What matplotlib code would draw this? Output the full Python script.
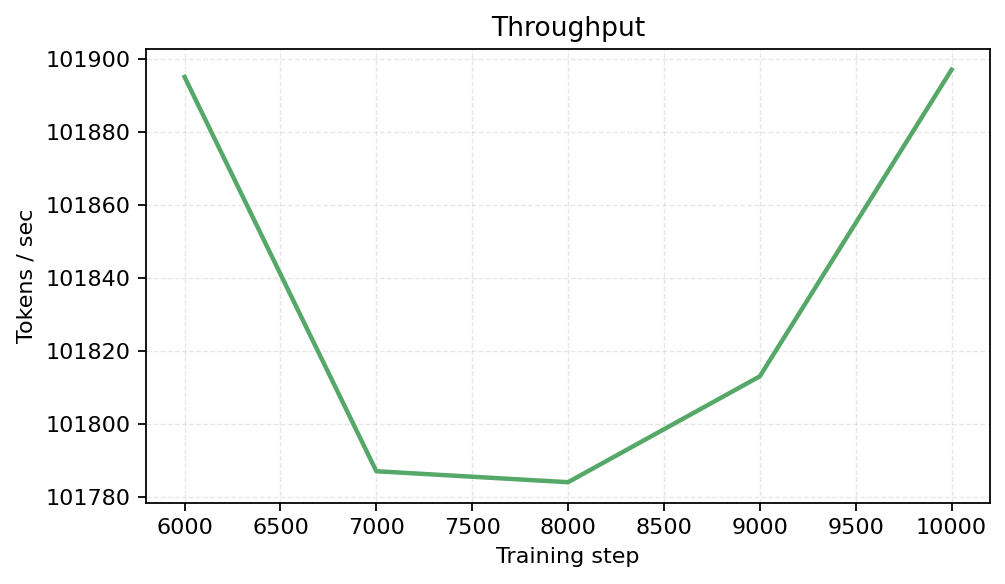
import numpy as np
import matplotlib
matplotlib.use("Agg")
import matplotlib.pyplot as plt

steps = [6000, 7000, 8000, 9000, 10000]
tokens_per_sec = [101895, 101787, 101784, 101813, 101897]

fig, ax = plt.subplots(figsize=(1005 / 160, 584 / 160), dpi=160)
ax.plot(steps, tokens_per_sec, color="#55a868", linewidth=2)
ax.set_title("Throughput")
ax.set_xlabel("Training step")
ax.set_ylabel("Tokens / sec")
ax.grid(True, linestyle="--", alpha=0.3, linewidth=0.6)
ax.ticklabel_format(axis="y", useOffset=False, style="plain")
fig.subplots_adjust(left=0.1455, right=0.985, top=0.916, bottom=0.139)
fig.savefig("out.png", dpi=160)
